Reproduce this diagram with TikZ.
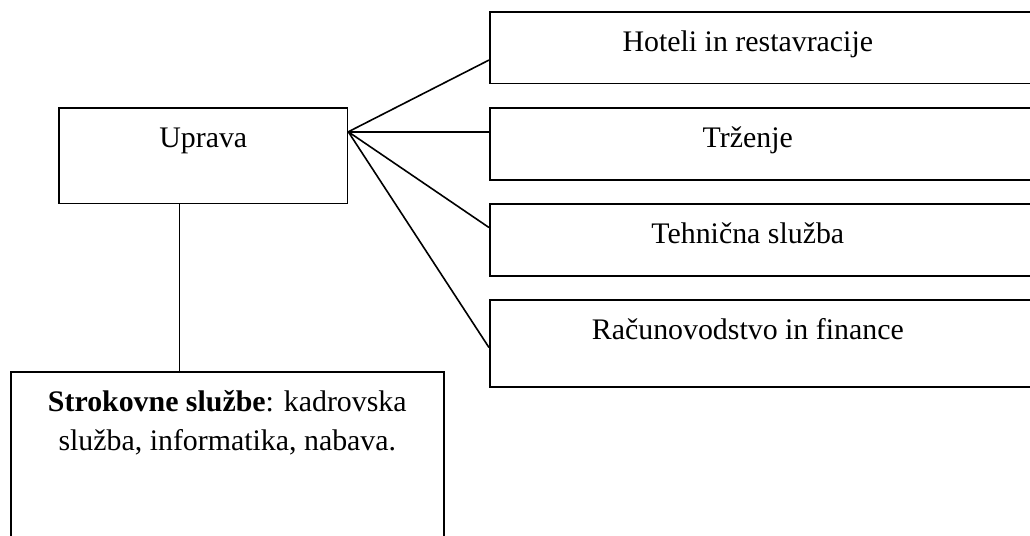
\documentclass[tikz,border=0pt]{standalone}
\usepackage{fontspec}
\setmainfont{Liberation Serif}
\begin{document}
\begin{tikzpicture}[x=.75pt,y=-.75pt]
    \tikzset{unit/.style={draw, line width=1.2pt, anchor=north west, inner sep=0pt},
             lbl/.style={anchor=base, font=\fontsize{22.4}{29.25}\selectfont, inner sep=0pt, yshift=-30.5pt}}
    \useasboundingbox (0,0) rectangle (1030,535);
    \clip (0,0) rectangle (1030,535);

    \node[unit, minimum width=216.3pt, minimum height=71.8pt, label={[lbl]north:Uprava}] (uprava) at (58.3,107) {};
    \node[unit, minimum width=324.8pt, minimum height=150pt, label={[lbl, align=center, yshift=-29pt]north:{\textbf{Strokovne službe}: kadrovska\\služba, informatika, nabava.}}] (strok) at (10,371) {};

    \node[unit, minimum width=420pt, minimum height=53.8pt, label={[lbl, xshift=-16.5pt]north:Hoteli in restavracije}] (hotel) at (489,11) {};
    \node[unit, minimum width=420pt, minimum height=54pt, label={[lbl, xshift=-16.5pt]north:Trženje}] (trzenje) at (489,107) {};
    \node[unit, minimum width=420pt, minimum height=54pt, label={[lbl, xshift=-16.5pt]north:Tehnična služba}] (tehnika) at (489,203) {};
    \node[unit, minimum width=420pt, minimum height=65.3pt, label={[lbl, xshift=-16.5pt]north:Računovodstvo in finance}] (racun) at (489,299) {};

    \coordinate (hub) at ([yshift=17.9pt]uprava.east);
    \draw[line width=1.2pt] (hub) -- ([yshift=-9.3pt]hotel.west);
    \draw[line width=1.2pt] (hub) -- ([yshift=9pt]trzenje.west);
    \draw[line width=1.2pt] (hub) -- ([yshift=9.2pt]tehnika.west);
    \draw[line width=1.2pt] (hub) -- ([yshift=-3.15pt]racun.west);
    \draw[line width=1.2pt] ([xshift=-17.9pt]uprava.south) -- ([xshift=-17.9pt]uprava.south |- strok.north);
\end{tikzpicture}
\end{document}
